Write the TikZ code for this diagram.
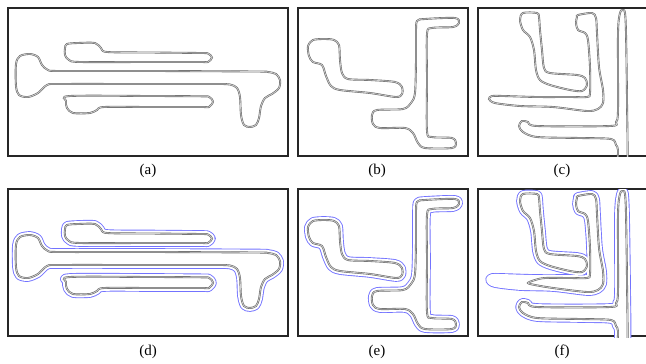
\documentclass[tikz,border=0pt]{standalone}
\usepackage{fontspec}
\setmainfont{Liberation Serif}

\tikzset{
  panel/.style={draw=black!85, line width=1.3pt},
  contour/.style={draw=black!58, double=black!18, double distance=0.7pt, line width=0.6pt},
  halo/.style={draw=blue!55, line width=7.6pt, line join=round},
  mask/.style={draw=white, fill=white, line width=5.8pt, line join=round},
  caption/.style={font=\fontsize{15}{17}\selectfont, inner sep=0pt},
}

% the three shapes of the first picture
\newcommand\fingerUp{plot[smooth cycle] coordinates {(67,44) (78,43) (95,43) (101,48) (107,52) (150,52.5) (200,53) (208,53.5) (212,57.5) (208,62) (200,62) (150,62) (80,62) (69,60) (65,55) (65,48)}}
\newcommand\fingerDown{plot[smooth cycle] coordinates {(70,96) (150,96) (201,96.3) (209,96.8) (213,101.5) (209,107) (201,107) (150,107) (104,107) (97,110) (90,113) (73,113) (67,108) (66,101)}}
\newcommand\stemBody{plot[smooth cycle] coordinates {(16,64) (20,56) (30,54) (38,57) (42,65) (48,70) (60,71) (150,71) (255,71.5) (268,72) (276,74) (280,80) (279,88) (272,94) (265,98) (261,106) (259,118) (256,125) (250,127) (244,125) (241,115) (240,97) (237,88) (230,84.5) (215,84) (150,84) (60,84) (47,85) (38,93) (28,97) (19,95) (16,86)}}

% the two shapes of the second picture
\newcommand\hookLeft{plot[smooth cycle] coordinates {(313,40) (325,39) (334,40) (339,45) (340,60) (342,73) (348,79) (370,80) (395,82) (402,87) (402,94) (396,97) (370,93) (340,90) (331,86) (326,76) (322,65) (313,62) (309,56) (308,46)}}
\newcommand\bracketRight{plot[smooth cycle] coordinates {(417,21) (425,19) (455,18) (459,23) (453,27) (432,28) (427,34) (427,80) (427,131) (432,137) (452,138) (456,143) (452,148) (425,148) (418,143) (413,133) (405,128) (380,128) (373,124) (372,115) (377,110) (403,109) (411,103) (415,93) (416,60) (416,33)}}

% the three shapes of the third picture
\newcommand\elbowOne{plot[smooth cycle] coordinates {(523,13) (537,13) (539,17) (540,30) (542,50) (544,68) (550,73) (577,75) (585,78) (587,85) (582,91) (570,90) (550,85) (540,80) (536,70) (534,50) (530,37) (523,30) (520,20)}}
\newcommand\elbowTwo{plot[smooth cycle] coordinates {(578,15) (592,13) (596,18) (597,33) (599,67) (603,90) (603,103) (598,109) (587,111) (553,107) (520,106) (495,103) (489,99) (492,96) (503,96) (537,97) (570,97) (587,97) (590,93) (590,67) (588,40) (585,33) (578,30) (576,23) (577,17)}}
\newcommand\elbowTwoShort{plot[smooth cycle] coordinates {(578,15) (592,13) (596,18) (597,33) (599,67) (603,90) (603,103) (598,109) (587,111) (553,107) (535,104) (528,102) (535,99) (545,97) (570,97) (587,97) (590,93) (590,67) (588,40) (585,33) (578,30) (576,23) (577,17)}}
\newcommand\spine{plot[smooth cycle] coordinates {(618,170) (618,150) (616,145) (611,139) (580,138) (537,137) (523,132) (519,126) (522,121) (528,122) (537,126) (610,126) (616,122) (618,110) (618,33) (620,13) (623,10) (625,13) (626,33) (627,100) (627,170)}}

\begin{document}
\begin{tikzpicture}[x=1pt, y=-1pt]
  \useasboundingbox (0,0) rectangle (646,364);

  % frames
  \draw[panel] (8,8) rectangle (288,156);
  \draw[panel] (298,8) rectangle (468,156);
  \draw[panel] (478,8) rectangle (652,156);
  \draw[panel] (8,189) rectangle (288,336);
  \draw[panel] (298,189) rectangle (468,336);
  \draw[panel] (478,189) rectangle (652,336);

  % top row: initial contours
  \draw[contour] \fingerUp;
  \draw[contour] \fingerDown;
  \draw[contour] \stemBody;
  \draw[contour] \hookLeft;
  \draw[contour] \bracketRight;
  \begin{scope}
    \clip (478,8) rectangle (646,156);
    \draw[contour] \elbowOne;
    \draw[contour] \elbowTwo;
    \draw[contour] \spine;
  \end{scope}

  % bottom row: same shapes with the grown (blue) contour
  \begin{scope}[shift={(0,181)}]
    \path[halo] \fingerUp;
    \path[halo] \fingerDown;
    \path[halo] \stemBody;
    \path[mask] \fingerUp;
    \path[mask] \fingerDown;
    \path[mask] \stemBody;
    \draw[contour] \fingerUp;
    \draw[contour] \fingerDown;
    \draw[contour] \stemBody;

    \path[halo] \hookLeft;
    \path[halo] \bracketRight;
    \path[mask] \hookLeft;
    \path[mask] \bracketRight;
    \draw[contour] \hookLeft;
    \draw[contour] \bracketRight;

    \begin{scope}
      \clip (478,8) rectangle (646,156);
      \path[halo] \elbowOne;
      \path[halo] \elbowTwo;
      \path[halo] \spine;
      \path[mask] \elbowOne;
      \path[mask] \elbowTwo;
      \path[mask] \spine;
      \draw[contour] \elbowOne;
      \draw[contour] \elbowTwoShort;
      \draw[contour] \spine;
    \end{scope}
  \end{scope}

  % captions
  \node[caption] (capA) at (148,171) {(a)};
  \node[caption] (capB) at (377,171) {(b)};
  \node[caption] (capC) at (562,171) {(c)};
  \node[caption] (capD) at (148,352) {(d)};
  \node[caption] (capE) at (377,352) {(e)};
  \node[caption] (capF) at (562,352) {(f)};
\end{tikzpicture}
\end{document}
